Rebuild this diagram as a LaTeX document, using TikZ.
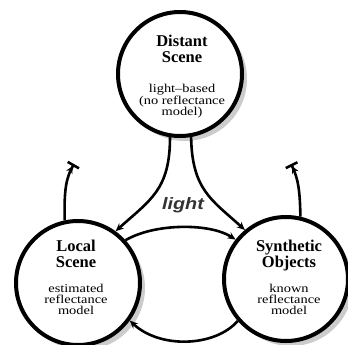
\documentclass[tikz,border=0pt]{standalone}
\usepackage{fontspec}
\setmainfont{Liberation Serif}
\newfontfamily\ttlfont{Liberation Serif}
\newfontfamily\dscfont[FakeStretch=1.2]{Liberation Serif}
\newfontfamily\lightfont[FakeStretch=1.2]{Liberation Sans}
\usetikzlibrary{arrows.meta,shadows}
\tikzset{
  circ/.style={circle,draw=black,line width=4pt,fill=white,minimum size=124pt,inner sep=0pt,
    drop shadow={shadow xshift=5pt,shadow yshift=-5pt,fill=black!20,opacity=1}},
  ttl/.style={align=center,inner sep=0pt,font=\ttlfont\fontsize{16.5}{16}\selectfont\bfseries},
  dsc/.style={align=center,inner sep=0pt,font=\dscfont\fontsize{12}{11}\selectfont},
  conn/.style={line width=2.6pt,-{Stealth[length=8pt,width=7pt]}},
  tee/.style={line width=2.6pt,-{Stealth[length=7pt,width=7pt] Bar[width=13pt,line width=2.6pt]}}
}
\begin{document}
\begin{tikzpicture}[x=1pt,y=-1pt]
\useasboundingbox (0,0) rectangle (348,345);
\node[circ] (top) at (180,74) {};
\node[circ] (left) at (78,283) {};
\node[circ] (right) at (286,279) {};
\node[ttl,anchor=north] (topT) at (182,35) {Distant\\Scene};
\node[dsc,anchor=north] (topD) at (182,84) {light–based\\(no reflectance\\model)};
\node[ttl,anchor=north] (leftT) at (76,240) {Local\\Scene};
\node[dsc,anchor=north] (leftD) at (76,284) {estimated\\reflectance\\model};
\node[ttl,anchor=north] (rightT) at (289,240) {Synthetic\\Objects};
\node[dsc,anchor=north] (rightD) at (289,284) {known\\reflectance\\model};
\node[font=\lightfont\fontsize{16.5}{16}\selectfont\bfseries\itshape,text=black!80] (lbl) at (183,205) {light};
\coordinate (lt) at (74,164);
\coordinate (rt) at (291,164);
\draw[conn] (top.261) .. controls (170,190) and (150,200) .. (left.54);
\draw[conn] (top.280) .. controls (192,190) and (212,200) .. (right.130);
\draw[conn] (left.42) .. controls (155,223) and (210,223) .. (right.142);
\draw[conn] (right.221) .. controls (215,347) and (160,349) .. (left.324);
\draw[tee] (left.102) .. controls (64,190) and (66,178) .. (lt);
\draw[tee] (right.77) .. controls (300,190) and (298,178) .. (rt);
\end{tikzpicture}
\end{document}
